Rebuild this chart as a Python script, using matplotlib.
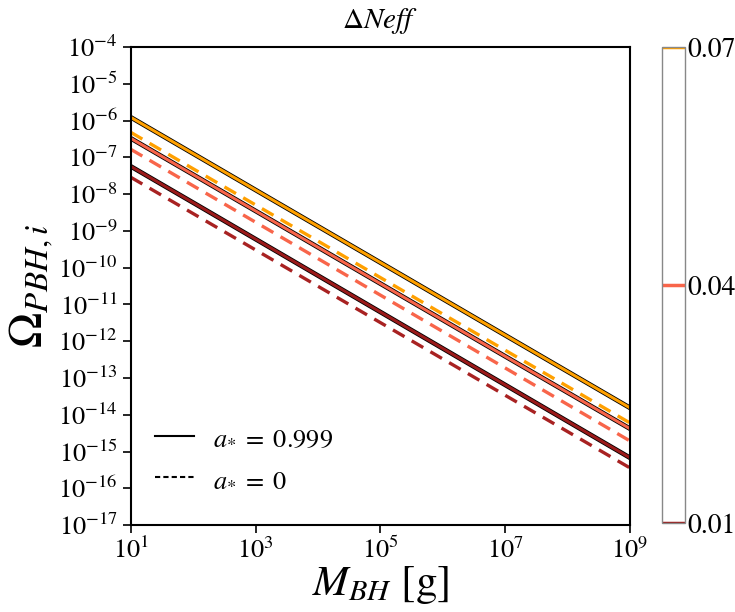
import numpy as np
import matplotlib
matplotlib.use("Agg")
import matplotlib.pyplot as plt
import matplotlib.patheffects as pe
from matplotlib.lines import Line2D
from matplotlib.colors import ListedColormap, Normalize
import matplotlib.cm as cm

plt.rcParams['mathtext.fontset'] = 'stix'
plt.rcParams['font.family'] = ['STIXGeneral', 'DejaVu Serif']

# Data
M_BH = [1e1, 1e2, 1e3, 1e4, 1e5, 1e6, 1e7, 1e8, 1e9]
dNeff_levels = [0.07, 0.04, 0.01]
colors = ['#FFA000', '#F8654A', '#9A1A1A']
# a* = 0.999 (solid)
omega_spin = [
    [1.23e-6, 1.266e-7, 1.30e-8, 1.34e-9, 1.38e-10, 1.42e-11, 1.46e-12, 1.505e-13, 1.55e-14],
    [3.3e-7, 3.4e-8, 3.5e-9, 3.6e-10, 3.7e-11, 3.8e-12, 3.9e-13, 4.05e-14, 4.2e-15],
    [5.7e-8, 5.87e-9, 6.0e-10, 6.12e-11, 6.25e-12, 6.38e-13, 6.52e-14, 6.65e-15, 6.8e-16],
]
# a* = 0 (dashed)
omega_nospin = [
    [4.8e-7, 4.9e-8, 5.1e-9, 5.3e-10, 5.4e-11, 5.5e-12, 5.7e-13, 5.9e-14, 6.0e-15],
    [1.66e-7, 1.69e-8, 1.73e-9, 1.77e-10, 1.80e-11, 1.84e-12, 1.88e-13, 1.91e-14, 1.95e-15],
    [2.88e-8, 2.96e-9, 3.05e-10, 3.13e-11, 3.22e-12, 3.31e-13, 3.40e-14, 3.50e-15, 3.6e-16],
]
dashed_colors = ['#FFA000', '#F8654A', '#A82222']
xticks = [1e1, 1e3, 1e5, 1e7, 1e9]
yticks = [10.0**k for k in range(-17, -3)]

fig = plt.figure(figsize=(7.35, 6.12), dpi=100)
ax = fig.add_axes([0.178, 0.142, 0.679, 0.781])

for c, ys in zip(colors, omega_spin):
    ax.plot(M_BH, ys, color=c, lw=2.2, ls='-',
            path_effects=[pe.Stroke(linewidth=3.4, foreground='black'), pe.Normal()])
for c, ys in zip(dashed_colors, omega_nospin):
    ax.plot(M_BH, ys, color=c, lw=2.4, ls=(0, (4, 2.5)))

ax.set_xscale('log')
ax.set_yscale('log')
ax.set_xlim(1e1, 1e9)
ax.set_ylim(1e-17, 1e-4)
ax.set_xticks(xticks)
ax.set_yticks(yticks)
ax.minorticks_off()
ax.tick_params(axis='both', which='major', direction='out', length=6, width=1.2, labelsize=19)
for s in ax.spines.values():
    s.set_linewidth(1.5)

ax.set_xlabel(r'$M_{BH}\ [\mathrm{g}]$', fontsize=31, labelpad=0)
ax.set_ylabel(r'$\Omega_{PBH,i}$', fontsize=34, labelpad=2)
ax.set_title(r'$\Delta Neff$', fontsize=21, pad=14)

handles = [Line2D([0], [0], color='black', lw=1.5, ls='-'),
           Line2D([0], [0], color='black', lw=1.5, ls=(0, (2.5, 1.5)))]
ax.legend(handles, [r'$a_{*}\;=\;0.999$', r'$a_{*}\;=\;0$'], loc='lower left',
          frameon=False, fontsize=19, bbox_to_anchor=(0.0, 0.02),
          handlelength=1.5, handletextpad=0.7, labelspacing=0.6)

cax = fig.add_axes([0.901, 0.145, 0.031, 0.778])
norm = Normalize(vmin=0.01, vmax=0.07)
sm = cm.ScalarMappable(norm=norm, cmap=ListedColormap(['white']))
cb = fig.colorbar(sm, cax=cax, ticks=dNeff_levels)
cb.outline.set_edgecolor('#888888')
cb.outline.set_linewidth(1.0)
for lvl, c in zip(dNeff_levels, colors):
    cax.axhline(lvl, color=c, lw=2.5)
cax.tick_params(length=0, labelsize=20, pad=2)
cax.set_yticklabels(['0.07', '0.04', '0.01'])

fig.savefig('out.png', dpi=100)
